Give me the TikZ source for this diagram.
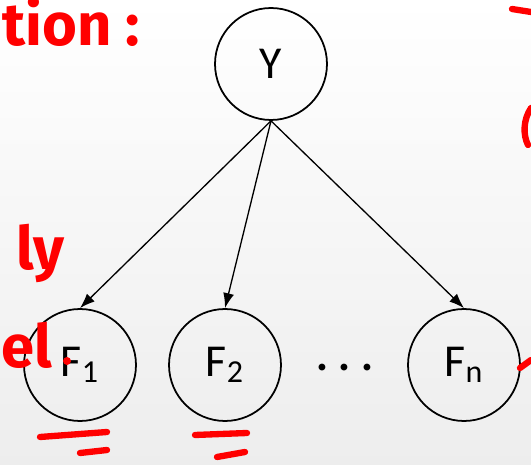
\documentclass[tikz,border=0pt]{standalone}
\usepackage{fontspec}
\usepackage{bm}
\setmainfont{Carlito}
\newfontfamily\handfont{Fira Sans}
\usetikzlibrary{arrows.meta}
\begin{document}
\begin{tikzpicture}[x=0.02cm, y=-0.02cm, >={Latex[length=3mm,width=2.2mm]},
  var/.style={draw, circle, line width=1pt, minimum size=2.24cm, inner sep=0pt, font=\fontsize{26}{30}\selectfont},
  ink/.style={red, line width=3.6pt, line cap=round, line join=round},
  scribble/.style={red, inner sep=0pt, font=\handfont\bfseries\fontsize{34}{40}\selectfont}]
\useasboundingbox (0,0) rectangle (531,465);
% slide background
\shade[top color=white, bottom color=gray!14] (0,0) rectangle (531,465);
\clip (0,0) rectangle (531,465);
% class node and feature nodes
\node[var] (Y) at (271,64) {Y};
\node[var] (F1) at (80,365) {F\textsubscript{1}};
\node[var] (F2) at (225,365) {F\textsubscript{2}};
\node[var] (Fn) at (464,365) {F\textsubscript{n}};
\node[font=\fontsize{58}{58}\selectfont, inner sep=0pt] (dots) at (345,368) {$\bm{\cdots}$};
% edges
\draw[->, line width=0.75pt] (Y.south) -- (F1.north);
\draw[->, line width=0.75pt] (Y.south) -- (F2.north);
\draw[->, line width=0.75pt] (Y.south) -- (Fn.north);
% handwritten notes
\node[scribble, anchor=base west] (note1) at (2,46) {tion :};
\node[scribble, anchor=base west] (note2) at (16,270) {ly};
\node[scribble, anchor=base west] (note3) at (1,368) {el};
\fill[red] (67,361) circle (4);
\draw[ink] (512,9) -- (531,12);
\draw[ink] (531,108) .. controls (523,120) and (523,135) .. (528,145);
\draw[ink] (520,368) -- (531,360);
% underlines
\draw[ink] (40,437) -- (107,432);
\draw[ink] (80,453) -- (107,450);
\draw[ink] (195,435) -- (247,433);
\draw[ink] (217,457) -- (245,452);
\end{tikzpicture}
\end{document}
